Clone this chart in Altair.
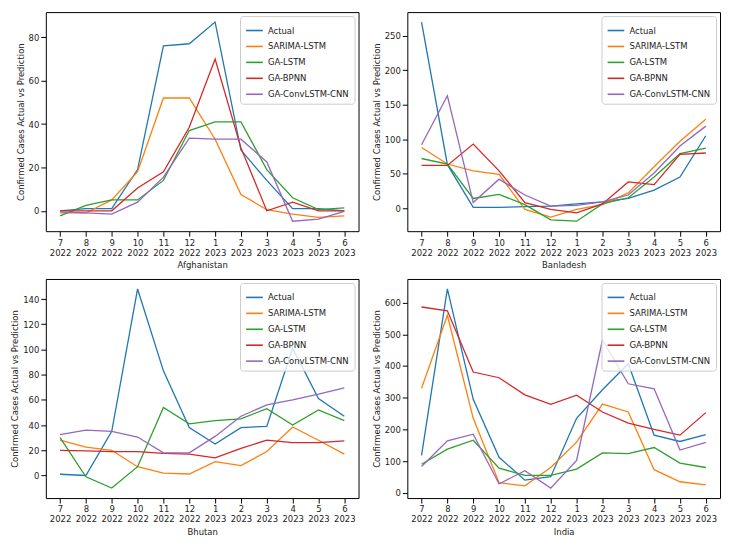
import altair as alt
import pandas as pd

months = ["7|2022", "8|2022", "9|2022", "10|2022", "11|2022", "12|2022",
          "1|2023", "2|2023", "3|2023", "4|2023", "5|2023", "6|2023"]
models = ["Actual", "SARIMA-LSTM", "GA-LSTM", "GA-BPNN", "GA-ConvLSTM-CNN"]
colors = ["#1f77b4", "#ff7f0e", "#2ca02c", "#d62728", "#9467bd"]

# Afghanistan
afg_actual = [0, 1, 1, 19, 76, 77, 87, 28, 14, 1, 1, 0]
afg_sarima = [-1, -1, 5, 18, 52, 52, 33, 7.5, 0.5, -1.5, -3, -2.3]
afg_galstm = [-2.3, 2.5, 5, 5, 14, 37, 41, 41, 19, 6, 0.5, 1.3]
afg_bpnn = [0, 0, 0, 10.5, 18, 38.5, 70, 29, 0, 4, 0, 0]
afg_conv = [-0.5, -1, -1.5, 4, 15.5, 33.5, 33, 33, 22.5, -4.8, -3.8, -0.3]

# Bangladesh
ban_actual = [270, 63, 1, 1, 2, 3, 6, 9, 14, 26, 45, 105]
ban_sarima = [88, 64, 54, 49, -2, -13, -2, 5, 22, 60, 97, 129]
ban_galstm = [72, 64, 14, 20, 5, -17, -19, 6, 15, 45, 79, 87]
ban_bpnn = [62, 62, 93, 54, 8, -2, -7, 6, 38, 34, 78, 80]
ban_conv = [92, 163, 8, 42, 19, 3, 4, 9, 19, 51, 90, 119]

# Bhutan
bhu_actual = [1, 0, 35, 148, 83, 38, 25, 38, 39, 101, 61, 47]
bhu_sarima = [28, 22.5, 20, 7, 1.8, 1.2, 11, 7.8, 19, 38.5, 28, 17]
bhu_galstm = [30, -1, -10, 7, 54, 41, 43.5, 45, 53, 40, 52, 43.5]
bhu_bpnn = [20, 19.5, 19, 19, 17.5, 17, 14, 21.5, 28, 26, 26, 27.5]
bhu_conv = [32.5, 36, 35, 30.5, 18, 18, 31, 47, 56, 60, 64.5, 69.5]

# India
ind_actual = [118, 643, 295, 112, 40, 51, 235, 325, 407, 182, 162, 184]
ind_sarima = [330, 560, 235, 32, 22, 80, 160, 280, 255, 73, 35, 25]
ind_galstm = [90, 138, 166, 78, 55, 55, 75, 126, 124, 143, 94, 80]
ind_bpnn = [586, 574, 381, 363, 309, 279, 308, 255, 220, 200, 182, 253]
ind_conv = [83, 164, 185, 28, 70, 15, 102, 482, 344, 328, 135, 159]

W, H = 314, 220
FONT = "DejaVu Sans"
FS = 8.5


def panel(country, series, domain, ticks):
    rows = []
    for m, vals in zip(models, series):
        for i, (mo, v) in enumerate(zip(months, vals)):
            rows.append({"month": mo, "i": i, "model": m, "value": v})
    df = pd.DataFrame(rows)
    return alt.Chart(df).mark_line(strokeWidth=1.3).encode(
        x=alt.X("month:O", sort=months, title=country,
                scale=alt.Scale(padding=0.55),
                axis=alt.Axis(labelAngle=0, labelExpr="split(datum.value, '|')",
                              labelFontSize=FS, titleFontSize=FS, titleFontWeight="normal",
                              tickColor="black", domain=False, labelColor="#222",
                              titleColor="#222", titlePadding=4, labelPadding=2,
                              labelLineHeight=10)),
        y=alt.Y("value:Q", title="Confirmed Cases Actual vs Prediction",
                scale=alt.Scale(domain=domain, nice=False, zero=False),
                axis=alt.Axis(values=ticks, grid=False, labelFontSize=FS,
                              titleFontSize=FS, titleFontWeight="normal",
                              tickColor="black", domain=False, labelColor="#222",
                              titleColor="#222", titlePadding=3, labelPadding=2)),
        color=alt.Color("model:N", sort=models,
                        scale=alt.Scale(domain=models, range=colors),
                        legend=alt.Legend(title=None, orient="top-right", offset=4,
                                          symbolType="stroke", symbolSize=280,
                                          symbolStrokeWidth=1.6, labelFontSize=FS,
                                          labelColor="#222", rowPadding=2,
                                          padding=5, strokeColor="#cccccc",
                                          fillColor="rgba(255,255,255,0.8)",
                                          cornerRadius=3)),
        order="i:Q",
    ).properties(width=W, height=H)


p1 = panel("Afghanistan", [afg_actual, afg_sarima, afg_galstm, afg_bpnn, afg_conv],
           [-9.4, 91.6], [0, 20, 40, 60, 80])
p2 = panel("Banladesh", [ban_actual, ban_sarima, ban_galstm, ban_bpnn, ban_conv],
           [-33.5, 284.5], [0, 50, 100, 150, 200, 250])
p3 = panel("Bhutan", [bhu_actual, bhu_sarima, bhu_galstm, bhu_bpnn, bhu_conv],
           [-17.9, 155.9], [0, 20, 40, 60, 80, 100, 120, 140])
p4 = panel("India", [ind_actual, ind_sarima, ind_galstm, ind_bpnn, ind_conv],
           [-16.4, 674.4], [0, 100, 200, 300, 400, 500, 600])

row1 = alt.hconcat(p1, p2, spacing=12).resolve_scale(color="independent", x="independent", y="independent")
row2 = alt.hconcat(p3, p4, spacing=12).resolve_scale(color="independent", x="independent", y="independent")
chart = alt.vconcat(row1, row2, spacing=8).resolve_scale(
    color="independent", x="independent", y="independent"
).properties(padding=2).configure(font=FONT).configure_view(stroke="black", strokeWidth=1)

chart.save("out.html", embed_options={"renderer": "svg", "actions": False})
